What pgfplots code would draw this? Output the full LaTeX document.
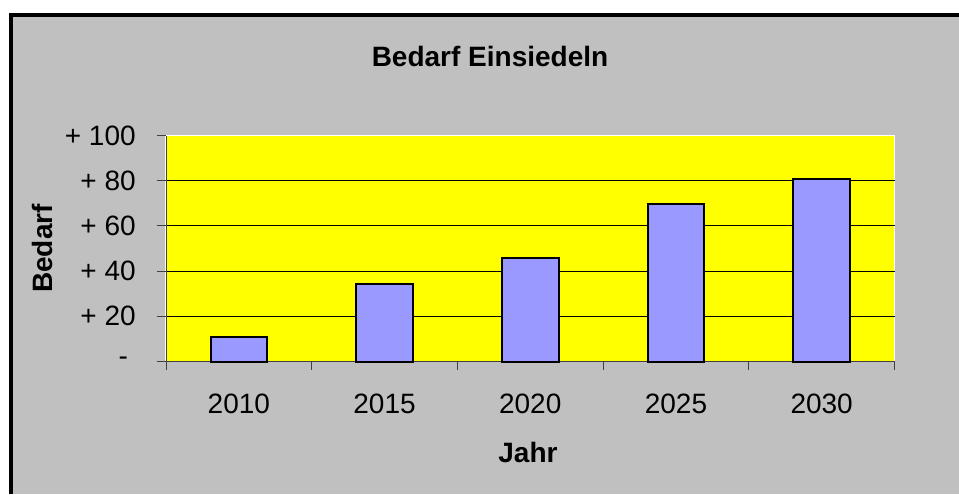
\documentclass[border=0pt]{standalone}
\usepackage{pgfplots}
\pgfplotsset{compat=1.18}
\usepackage{fontspec}
\setmainfont{Liberation Sans}
\definecolor{bggray}{HTML}{C0C0C0}
\definecolor{plotyellow}{HTML}{FFFF00}
\definecolor{barblue}{HTML}{9999FF}
\begin{document}
\begin{tikzpicture}
\path[use as bounding box] (0pt,0pt) rectangle (719.25pt,370.5pt);
\fill[white] (0pt,0pt) rectangle (719.25pt,370.5pt);
\fill[bggray] (8.25pt,0pt) rectangle (719.25pt,359.25pt);
\draw[black, line width=3pt] (8.25pt,0pt) -- (8.25pt,359.25pt) -- (719.25pt,359.25pt);
\begin{axis}[
  at={(124.5pt,99.375pt)}, anchor=south west,
  scale only axis, width=546.375pt, height=169.5pt,
  xmin=-0.5, xmax=4.5, ymin=0, ymax=100,
  axis lines=left, axis line style={-, black!75, line width=0.75pt},
  axis background/.style={fill=plotyellow, draw=white, line width=1pt},
  xtick={0,1,2,3,4},
  xticklabels={2010,2015,2020,2025,2030},
  major x tick style={draw=none},
  minor xtick={-0.5,0.5,1.5,2.5,3.5,4.5},
  minor x tick style={black!75, line width=0.75pt},
  minor tick length=6pt,
  ytick={0,20,40,60,80},
  yticklabels={-\ \ ,+ 20,+ 40,+ 60,+ 80},
  extra y ticks={100},
  extra y tick labels={+ 100},
  extra y tick style={grid=none},
  y tick style={black!75, line width=0.75pt},
  major tick length=6.75pt,
  tick align=outside,
  ymajorgrids,
  major grid style={black, line width=0.75pt},
  tick label style={font=\fontsize{21}{25}\selectfont},
  yticklabel style={anchor=east, inner sep=0pt, xshift=-15.75pt},
  xticklabel style={anchor=base, inner sep=0pt, yshift=-32.6pt},
  every axis title shift=0pt,
  title={\textbf{Bedarf Einsiedeln}},
  title style={font=\fontsize{21}{25}\selectfont, at={(axis description cs:0.4448,1.3044)}, anchor=base, inner sep=0pt},
  xlabel={\textbf{Jahr}},
  xlabel style={font=\fontsize{21}{25}\selectfont, at={(axis description cs:0.4969,-0.449)}, anchor=base, inner sep=0pt},
  ylabel={\textbf{Bedarf}},
  ylabel style={font=\fontsize{21}{25}\selectfont, at={(axis description cs:-0.1702,0.5)}, anchor=center, rotate=0, inner sep=0pt},
  ybar, bar width=42.5pt,
  clip=false,
]
\addplot[fill=barblue, draw=black, line width=1.5pt] coordinates {
  (0,10.9) (1,34.2) (2,46.0) (3,69.5) (4,80.9)
};
\end{axis}
\end{tikzpicture}
\end{document}
